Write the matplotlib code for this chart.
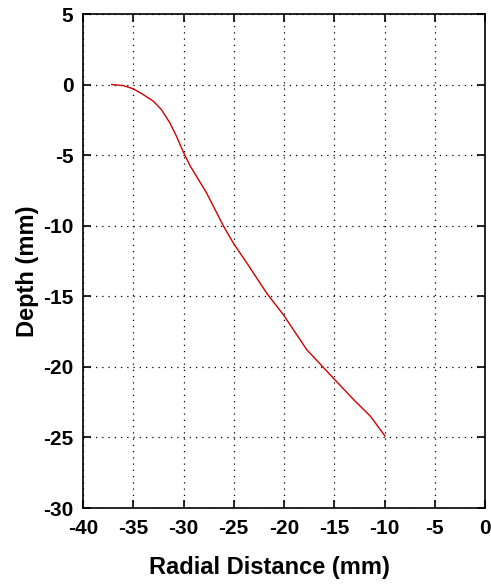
import matplotlib.pyplot as plt

# profile (mm)
radial = [-37.15, -36.0, -35.0, -34.0, -33.0, -32.2, -31.35, -30.7, -30.05, -29.35,
          -27.7, -26.05, -25.05, -23.7, -21.7, -20.07, -17.74, -15.1,
          -13.1, -11.4, -9.95]
depth = [0.0, -0.07, -0.3, -0.71, -1.18, -1.77, -2.72, -3.66, -4.73, -5.75,
         -7.68, -9.99, -11.22, -12.64, -14.8, -16.3, -18.78, -20.79,
         -22.3, -23.5, -24.9]

xticks = list(range(-40, 1, 5))
yticks = list(range(-30, 6, 5))

plt.rcParams['font.family'] = ['Liberation Sans', 'DejaVu Sans']
plt.rcParams['axes.unicode_minus'] = False

fig = plt.figure(figsize=(4.91, 5.86), dpi=100, facecolor="white")
ax = fig.add_axes([83/491, 1 - 508/586, (485-83)/491, (508-14)/586])

ax.plot(radial, depth, color="#cc0000", linewidth=1.0)

ax.set_xlim(-40, 0)
ax.set_ylim(-30, 5)
ax.set_xticks(xticks)
ax.set_yticks(yticks)
ax.grid(True, linestyle=(0, (1, 4)), color="black", linewidth=0.9)
ax.tick_params(direction="in", length=6, width=1.2, top=True, right=True,
               labelsize=15)
ax.tick_params(axis="x", pad=8)
ax.tick_params(axis="y", pad=7)
for lab in ax.get_xticklabels() + ax.get_yticklabels():
    lab.set_fontweight("bold")
for sp in ax.spines.values():
    sp.set_linewidth(1.2)

ax.set_xlabel("Radial Distance (mm)", fontsize=17, fontweight="bold")
ax.set_ylabel("Depth (mm)", fontsize=17, fontweight="bold")
ax.xaxis.set_label_coords(0.463, -0.098)
ax.yaxis.set_label_coords(-0.11, 0.48)

fig.savefig("out.png", dpi=100, facecolor="white")
